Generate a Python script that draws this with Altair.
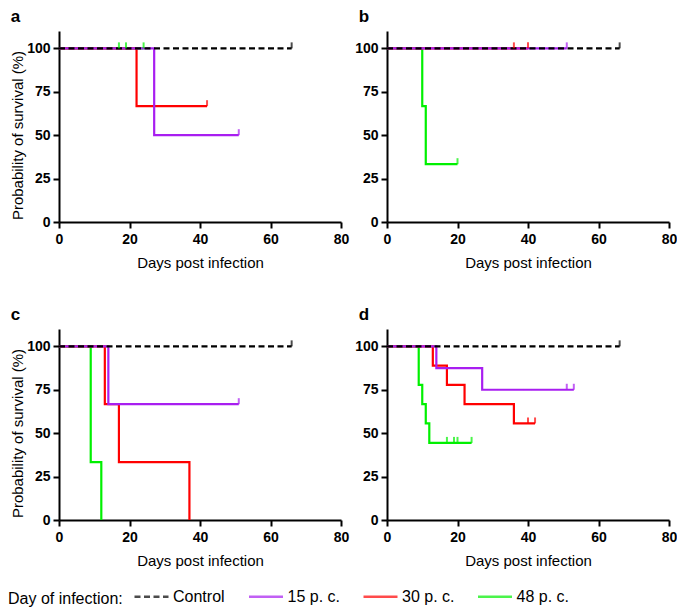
import altair as alt
import pandas as pd

GROUPS = ["Control", "15 p. c.", "30 p. c.", "48 p. c."]
COLORS = ["#000000", "#A81EF0", "#FF0000", "#00F000"]
DASHES = [[6, 3.5], [1, 0], [1, 0], [1, 0]]
X_TICKS = [0, 20, 40, 60, 80]
Y_TICKS = [0, 25, 50, 75, 100]

# ---- panel a ----
a_ctrl_days = [0, 66]
a_ctrl_surv = [100, 100]
a_ctrl_cens = [66]
a_15_days = [0, 27, 51]
a_15_surv = [100, 50, 50]
a_15_cens = [51]
a_30_days = [0, 22, 42]
a_30_surv = [100, 66.7, 66.7]
a_30_cens = [42]
a_48_days = [0, 24]
a_48_surv = [100, 100]
a_48_cens = [17, 19, 24]

# ---- panel b ----
b_ctrl_days = [0, 66]
b_ctrl_surv = [100, 100]
b_ctrl_cens = [66]
b_15_days = [0, 51]
b_15_surv = [100, 100]
b_15_cens = [51]
b_30_days = [0, 40]
b_30_surv = [100, 100]
b_30_cens = [36, 40]
b_48_days = [0, 10, 11, 20]
b_48_surv = [100, 66.7, 33.3, 33.3]
b_48_cens = [20]

# ---- panel c ----
c_ctrl_days = [0, 66]
c_ctrl_surv = [100, 100]
c_ctrl_cens = [66]
c_15_days = [0, 14, 51]
c_15_surv = [100, 66.7, 66.7]
c_15_cens = [51]
c_30_days = [0, 13, 17, 37]
c_30_surv = [100, 66.7, 33.3, 0]
c_30_cens = []
c_48_days = [0, 9, 12]
c_48_surv = [100, 33.3, 0]
c_48_cens = []

# ---- panel d ----
d_ctrl_days = [0, 66]
d_ctrl_surv = [100, 100]
d_ctrl_cens = [66]
d_15_days = [0, 14, 27, 53]
d_15_surv = [100, 87.5, 75, 75]
d_15_cens = [51, 53]
d_30_days = [0, 13, 17, 22, 36, 42]
d_30_surv = [100, 88.9, 77.8, 66.7, 55.6, 55.6]
d_30_cens = [40, 42]
d_48_days = [0, 9, 10, 11, 12, 24]
d_48_surv = [100, 77.8, 66.7, 55.6, 44.4, 44.4]
d_48_cens = [17, 19, 20, 24]

FONT = "Liberation Sans, Arial, sans-serif"

color_scale = alt.Scale(domain=GROUPS, range=COLORS)
dash_scale = alt.Scale(domain=GROUPS, range=DASHES)
legend = alt.Legend(
    title="Day of infection:",
    orient="none",
    legendX=-51,
    legendY=547,
    direction="horizontal",
    titleOrient="left",
    titleAnchor="middle",
    titleBaseline="top",
    titleFont=FONT,
    titleFontSize=16,
    titleFontWeight="normal",
    titleColor="black",
    titlePadding=10,
    labelFont=FONT,
    labelFontSize=16,
    labelColor="black",
    labelOffset=3,
    symbolType="stroke",
    symbolSize=1156,
    symbolStrokeWidth=2.5,
    gridAlign="all",
    columnPadding=17.5,
)


def surv_at(days, surv, t):
    val = surv[0]
    for d, s in zip(days, surv):
        if d <= t:
            val = s
    return val


def panel(label, series, ytitle, dx):
    xs = alt.Scale(domain=[0, 80], nice=False, padding=0)
    ys = alt.Scale(domain=[0, 110], nice=False, padding=0)
    xaxis = alt.Axis(values=X_TICKS, title="Days post infection", format="d", labelFlush=False)
    if ytitle:
        yaxis = alt.Axis(values=Y_TICKS, title=ytitle, format="d", titleY=104)
    else:
        yaxis = alt.Axis(values=Y_TICKS, title=None, format="d")
    layers = []
    ticks = []
    for g, d, s, c in series:
        df = pd.DataFrame({"group": g, "day": d, "surv": s, "ord": list(range(len(d)))})
        layers.append(
            alt.Chart(df).mark_line(interpolate="step-after", strokeWidth=2.2, clip=True).encode(
                x=alt.X("day:Q", scale=xs, axis=xaxis),
                y=alt.Y("surv:Q", scale=ys, axis=yaxis),
                color=alt.Color("group:N", scale=color_scale, legend=legend),
                strokeDash=alt.StrokeDash("group:N", scale=dash_scale, legend=legend),
                order="ord:Q",
            )
        )
        for t in c:
            ticks.append({"group": g, "day": t, "surv": surv_at(d, s, t)})
    tdf = pd.DataFrame(ticks)
    layers.append(
        alt.Chart(tdf).mark_tick(orient="vertical", size=6, thickness=2, yOffset=-3).encode(
            x=alt.X("day:Q", scale=xs, axis=xaxis),
            y=alt.Y("surv:Q", scale=ys, axis=yaxis),
            color=alt.Color("group:N", scale=color_scale, legend=legend),
        )
    )
    return alt.layer(*layers).properties(
        width=282,
        height=191,
        title=alt.TitleParams(
            label, anchor="start", frame="bounds", fontSize=17, fontWeight="bold",
            font=FONT, color="black", offset=5, dx=dx,
        ),
    )


def series_for(p):
    g = globals()
    return [
        ("48 p. c.", g[p + "_48_days"], g[p + "_48_surv"], g[p + "_48_cens"]),
        ("30 p. c.", g[p + "_30_days"], g[p + "_30_surv"], g[p + "_30_cens"]),
        ("15 p. c.", g[p + "_15_days"], g[p + "_15_surv"], g[p + "_15_cens"]),
        ("Control", g[p + "_ctrl_days"], g[p + "_ctrl_surv"], g[p + "_ctrl_cens"]),
    ]


pa = panel("a", series_for("a"), "Probability of survival (%)", 0)
pb = panel("b", series_for("b"), None, 4)
pc = panel("c", series_for("c"), "Probability of survival (%)", 0)
pd_ = panel("d", series_for("d"), None, 4)

chart = alt.concat(
    pa, pb, pc, pd_, columns=2, spacing={"row": 107, "column": 46}, bounds="flush"
).resolve_scale(
    color="shared", strokeDash="shared"
).configure_view(stroke=None).configure_axis(
    grid=False,
    domainColor="black",
    domainWidth=2,
    tickColor="black",
    tickWidth=2,
    tickSize=6,
    labelFont=FONT,
    labelFontSize=14,
    labelFontWeight="bold",
    labelColor="black",
    labelPadding=4,
    titleFont=FONT,
    titleFontSize=15,
    titleFontWeight="normal",
    titleColor="black",
).configure_axisX(titlePadding=9).configure_axisY(titlePadding=1, labelPadding=3).properties(
    padding={"left": 0, "top": 0, "right": 0, "bottom": 0}
)

chart.save("out.html", embed_options={"renderer": "svg", "actions": False})
